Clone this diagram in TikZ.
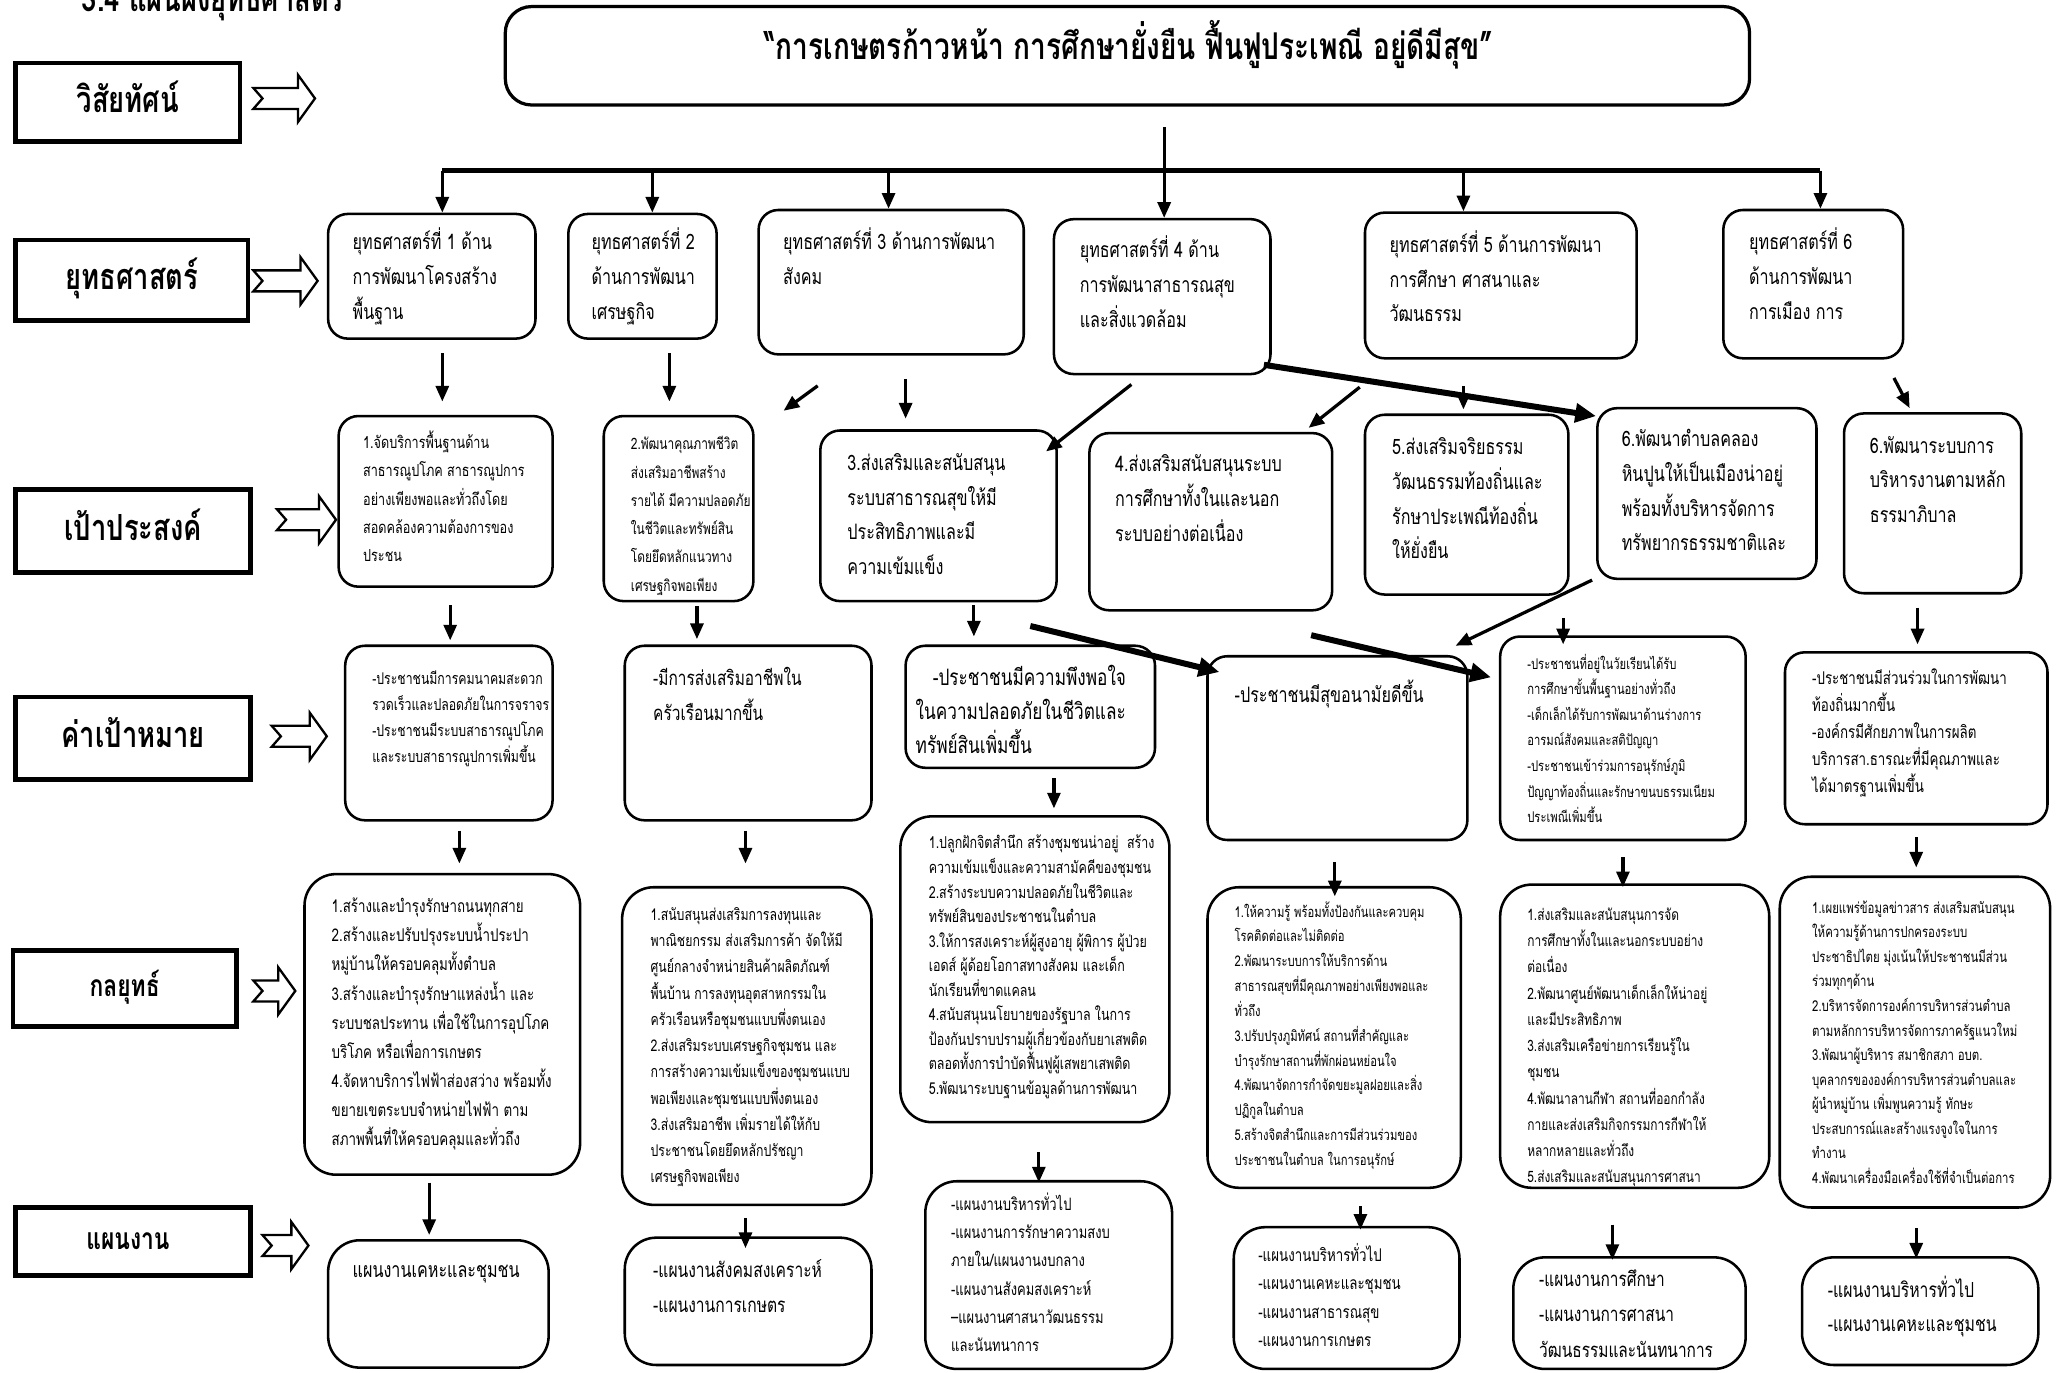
\documentclass[tikz,border=0pt]{standalone}
\usepackage{fontspec}
\setmainfont{Loma}[Script=Thai,FakeStretch=0.76]
\usetikzlibrary{arrows.meta,calc,fit}

% notched block arrow: tail x, tip x, middle y
\newcommand{\fatarrow}[3]{%
  \draw[fatarr] (#1,#3-8) -- (#2-13,#3-8) -- (#2-13,#3-18) -- (#2,#3)
    -- (#2-13,#3+18) -- (#2-13,#3+8) -- (#1,#3+8) -- (#1+7,#3) -- cycle;}

\tikzset{
  lab/.style={draw, line width=1pt, inner sep=0pt},
  rbox/.style={draw, line width=0.55pt, rounded corners=0.15cm, inner sep=0pt},
  kbox/.style={rbox, rounded corners=0.24cm},
  txt/.style 2 args={font=\fontsize{#1}{#2}\selectfont, anchor=north west, align=left, inner sep=0pt},
  txtA/.style={txt={4.6}{7.54}},
  hd/.style={font=\fontsize{7.8}{10}\selectfont\bfseries, text height=4.2pt, text depth=0pt},
  hds/.style={font=\fontsize{6.5}{8}\selectfont\bfseries, text height=3.5pt, text depth=0pt},
  arr/.style={-{Triangle[length=3.4pt,width=2.8pt]}, line width=0.7pt},
  bigarr/.style={-{Triangle[length=4.5pt,width=4pt]}, line width=1.3pt},
  fatarr/.style={draw, line width=0.5pt, fill=white, line join=miter}
}

\begin{document}
\begin{tikzpicture}[x=0.01cm, y=-0.01cm]
\useasboundingbox (0,0) rectangle (1568,1046);

% title, cut by the top edge
\node[hd, anchor=base west] (ttl) at (50,9) {3.4 แผนผังยุทธศาสตร์};

% left column
\node[lab, fit={(12,48) (183,108)}] (l1) {};
\node[lab, fit={(12,183) (189,244)}] (l2) {};
\node[lab, fit={(12,373) (191,436)}] (l3) {};
\node[lab, fit={(12,531) (191,594)}] (l4) {};
\node[lab, fit={(10,724) (180,782)}] (l5) {};
\node[lab, fit={(12,920) (191,972)}] (l6) {};
\node[hd] (l1t) at (l1.center) {วิสัยทัศน์};
\node[hd] (l2t) at (l2.center) {ยุทธศาสตร์};
\node[hd] (l3t) at (l3.center) {เป้าประสงค์};
\node[hd] (l4t) at (l4.center) {ค่าเป้าหมาย};
\node[hds] (l5t) at (l5.center) {กลยุทธ์};
\node[hds] (l6t) at ([xshift=-0.04cm]l6.center) {แผนงาน};
\fatarrow{193}{240}{75}
\fatarrow{193}{242}{214}
\fatarrow{211}{256}{396}
\fatarrow{207}{249}{561}
\fatarrow{193}{225}{755}
\fatarrow{200}{235}{949}

% vision
\node[rbox, line width=0.7pt, rounded corners=0.2cm, fit={(385,5) (1333,80)}] (vis) {};
\node[hd, font=\fontsize{8}{10}\selectfont\bfseries] (vist) at (860,38) {“การเกษตรก้าวหน้า การศึกษายั่งยืน ฟื้นฟูประเพณี อยู่ดีมีสุข”};

% strategies
\node[rbox, fit={(250,163) (408,258)}] (s1) {};
\node[rbox, fit={(433,163) (546,258)}] (s2) {};
\node[rbox, fit={(578,160) (780,270)}] (s3) {};
\node[rbox, fit={(803,167) (968,285)}] (s4) {};
\node[rbox, fit={(1040,162) (1247,273)}] (s5) {};
\node[rbox, fit={(1313,160) (1450,273)}] (s6) {};
\node[txtA] (s1t) at (268,171) {\strut ยุทธศาสตร์ที่ 1 ด้าน\\การพัฒนาโครงสร้าง\\พื้นฐาน};
\node[txtA] (s2t) at (450,171) {\strut ยุทธศาสตร์ที่ 2\\ด้านการพัฒนา\\เศรษฐกิจ};
\node[txtA] (s3t) at (596,171) {\strut ยุทธศาสตร์ที่ 3 ด้านการพัฒนา\\สังคม};
\node[txtA] (s4t) at (822,177) {\strut ยุทธศาสตร์ที่ 4 ด้าน\\การพัฒนาสาธารณสุข\\และสิ่งแวดล้อม};
\node[txtA] (s5t) at (1058,173) {\strut ยุทธศาสตร์ที่ 5 ด้านการพัฒนา\\การศึกษา ศาสนาและ\\วัฒนธรรม};
\node[txtA] (s6t) at (1332,171) {\strut ยุทธศาสตร์ที่ 6\\ด้านการพัฒนา\\การเมือง การ};

% vision to strategies
\coordinate (b1) at (337,130);
\coordinate (b2) at (497,130);
\coordinate (b3) at (677,130);
\coordinate (b5) at (1115,130);
\coordinate (b6) at (1387,130);
\coordinate (vtop) at (887,97);
\draw[line width=1.2pt] (b1) -- (b6);
\foreach \b/\s in {b1/s1,b2/s2,b3/s3,b5/s5,b6/s6}
  \draw[arr] (\b) -- (\b |- \s.north);
\draw[arr] (vtop) -- (vtop |- s4.north);

% goals
\node[rbox, fit={(258,317) (421,447)}] (g1) {};
\node[rbox, fit={(460,317) (574,458)}] (g2) {};
\node[rbox, fit={(625,328) (805,458)}] (g3) {};
\node[rbox, fit={(830,330) (1015,465)}] (g4) {};
\node[rbox, fit={(1040,316) (1195,453)}] (g5) {};
\node[rbox, fit={(1217,311) (1384,441)}] (g6) {};
\node[rbox, fit={(1405,315) (1540,452)}] (g7) {};
\node[txt={3.6}{6.12}] (g1t) at (276,326) {\strut 1.จัดบริการพื้นฐานด้าน\\สาธารณูปโภค สาธารณูปการ\\อย่างเพียงพอและทั่วถึงโดย\\สอดคล้องความต้องการของ\\ประชน};
\node[txt={3.4}{6.12}] (g2t) at (480,327) {\strut 2.พัฒนาคุณภาพชีวิต\\ส่งเสริมอาชีพสร้าง\\รายได้ มีความปลอดภัย\\ในชีวิตและทรัพย์สิน\\โดยยึดหลักแนวทาง\\เศรษฐกิจพอเพียง};
\node[txtA] (g3t) at (645,339) {\strut 3.ส่งเสริมและสนับสนุน\\ระบบสาธารณสุขให้มี\\ประสิทธิภาพและมี\\ความเข้มแข็ง};
\node[txtA] (g4t) at (849,340) {\strut 4.ส่งเสริมสนับสนุนระบบ\\การศึกษาทั้งในและนอก\\ระบบอย่างต่อเนื่อง};
\node[txtA] (g5t) at (1060,327) {\strut 5.ส่งเสริมจริยธรรม\\วัฒนธรรมท้องถิ่นและ\\รักษาประเพณีท้องถิ่น\\ให้ยั่งยืน};
\node[txtA] (g6t) at (1235,321) {\strut 6.พัฒนาตำบลคลอง\\หินปูนให้เป็นเมืองน่าอยู่\\พร้อมทั้งบริหารจัดการ\\ทรัพยากรธรรมชาติและ};
\node[txtA] (g7t) at (1424,326) {\strut 6.พัฒนาระบบการ\\บริหารงานตามหลัก\\ธรรมาภิบาล};

% strategies to goals
\draw[arr] ($(s1.south)+(8,10)$) -- ++(0,37);
\draw[arr] ($(s2.south)+(20.5,10)$) -- ++(0,37);
\draw[arr] ($(s3.south)+(-56,23)$) -- ++(-26,19);
\draw[arr] ($(s3.south)+(11,18)$) -- ++(0,30);
\draw[arr] ($(s4.south)+(-23.5,7)$) -- ++(-65,51);
\draw[bigarr] ([shift={(-6,-8)}]s4.south east) -- ([shift={(0,7)}]g6.north west);
\draw[arr] ($(s5.south)+(-28.5,20)$) -- ++(0,18);
\draw[arr] ($(s5.south)+(-107.5,21)$) -- ++(-39,31);
\draw[arr] ($(s6.south)+(61.5,14)$) -- ++(12,23);

% targets
\node[rbox, fit={(263,492) (421,625)}] (t1) {};
\node[rbox, fit={(476,492) (664,625)}] (t2) {};
\node[rbox, fit={(690,492) (880,585)}] (t3) {};
\node[rbox, fit={(920,500) (1118,640)}] (t4) {};
\node[rbox, fit={(1143,485) (1330,640)}] (t5) {};
\node[rbox, fit={(1360,497) (1560,628)}] (t6) {};
\node[txt={3.5}{5.69}] (t1t) at (283,506.5) {\strut -ประชาชนมีการคมนาคมสะดวก\\รวดเร็วและปลอดภัยในการจราจร\\-ประชาชนมีระบบสาธารณูปโภค\\และระบบสาธารณูปการเพิ่มขึ้น};
\node[txt={4.4}{7.68}] (t2t) at (497,502.6) {\strut -มีการส่งเสริมอาชีพใน\\ครัวเรือนมากขึ้น};
\node[txt={4.9}{7.4}] (t3t) at (697,503.3) {\strut\hspace*{3.7pt}-ประชาชนมีความพึงพอใจ\\ในความปลอดภัยในชีวิตและ\\ทรัพย์สินเพิ่มขึ้น};
\node[txt={4.6}{7.4}] (t4t) at (940,516.3) {\strut -ประชาชนมีสุขอนามัยดีขึ้น};
\node[txt={3.2}{5.55}] (t5t) at (1163,495.4) {\strut -ประชาชนที่อยู่ในวัยเรียนได้รับ\\การศึกษาขั้นพื้นฐานอย่างทั่วถึง\\-เด็กเล็กได้รับการพัฒนาด้านร่างการ\\อารมณ์สังคมและสติปัญญา\\-ประชาชนเข้าร่วมการอนุรักษ์ภูมิ\\ปัญญาท้องถิ่นและรักษาขนบธรรมเนียม\\ประเพณีเพิ่มขึ้น};
\node[txt={3.8}{5.83}] (t6t) at (1380,506.7) {\strut -ประชาชนมีส่วนร่วมในการพัฒนา\\ท้องถิ่นมากขึ้น\\-องค์กรมีศักยภาพในการผลิต\\บริการสา.ธารณะที่มีคุณภาพและ\\ได้มาตรฐานเพิ่มขึ้น};

% goals to targets
\draw[arr] ($(g1.south)+(3.5,13)$) -- ++(0,27);
\draw[arr] ($(g2.south)+(14,3)$) -- ++(0,25);
\draw[arr] ($(g3.south)+(27,2)$) -- ++(0,24);
\draw[bigarr] ($(g3.south)+(70,18)$) -- ([shift={(10,13)}]t4.north west);
\draw[bigarr] ([shift={(-17,18)}]g4.south east) -- ([shift={(-6,32)}]t5.north west);
\draw[arr] ([shift={(-3,0)}]g6.south west) -- ++(-104,50);
\draw[arr] ([shift={(-5,17)}]g5.south east) -- ++(0,20);
\draw[arr] ($(g7.south)+(-11.5,10)$) -- ++(0,28);

% tactics
\node[kbox, fit={(232,666) (442,895)}] (k1) {};
\node[kbox, fit={(474,676) (664,918)}] (k2) {};
\node[kbox, fit={(686,622) (891,855)}] (k3) {};
\node[kbox, fit={(920,676) (1113,905)}] (k4) {};
\node[kbox, fit={(1143,674) (1348,905)}] (k5) {};
\node[kbox, fit={(1356,668) (1562,920)}] (k6) {};
\node[txt={3.8}{6.32}] (k1t) at (252,679) {\strut 1.สร้างและบำรุงรักษาถนนทุกสาย\\2.สร้างและปรับปรุงระบบน้ำประปา\\หมู่บ้านให้ครอบคลุมทั้งตำบล\\3.สร้างและบำรุงรักษาแหล่งน้ำ และ\\ระบบชลประทาน เพื่อใช้ในการอุปโภค\\บริโภค หรือเพื่อการเกษตร\\4.จัดหาบริการไฟฟ้าส่องสว่าง พร้อมทั้ง\\ขยายเขตระบบจำหน่ายไฟฟ้า ตาม\\สภาพพื้นที่ให้ครอบคลุมและทั่วถึง};
\node[txt={3.5}{5.69}] (k2t) at (495,686.5) {\strut 1.สนับสนุนส่งเสริมการลงทุนและ\\พาณิชยกรรม ส่งเสริมการค้า จัดให้มี\\ศูนย์กลางจำหน่ายสินค้าผลิตภัณฑ์\\พื้นบ้าน การลงทุนอุตสาหกรรมใน\\ครัวเรือนหรือชุมชนแบบพึ่งตนเอง\\2.ส่งเสริมระบบเศรษฐกิจชุมชน และ\\การสร้างความเข้มแข็งของชุมชนแบบ\\พอเพียงและชุมชนแบบพึ่งตนเอง\\3.ส่งเสริมอาชีพ เพิ่มรายได้ให้กับ\\ประชาชนโดยยึดหลักปรัชญา\\เศรษฐกิจพอเพียง};
\node[txt={3.55}{5.32}] (k3t) at (707,633) {\strut 1.ปลูกฝักจิตสำนึก สร้างชุมชนน่าอยู่ \ สร้าง\\ความเข้มแข็งและความสามัคคีของชุมชน\\2.สร้างระบบความปลอดภัยในชีวิตและ\\ทรัพย์สินของประชาชนในตำบล\\3.ให้การสงเคราะห์ผู้สูงอายุ ผู้พิการ ผู้ป่วย\\เอดส์ ผู้ด้อยโอกาสทางสังคม และเด็ก\\นักเรียนที่ขาดแคลน\\4.สนับสนุนนโยบายของรัฐบาล ในการ\\ป้องกันปราบปรามผู้เกี่ยวข้องกับยาเสพติด\\ตลอดทั้งการบำบัดฟื้นฟูผู้เสพยาเสพติด\\5.พัฒนาระบบฐานข้อมูลด้านการพัฒนา};
\node[txt={3.2}{5.38}] (k4t) at (940,684.8) {\strut 1.ให้ความรู้ พร้อมทั้งป้องกันและควบคุม\\โรคติดต่อและไม่ติดต่อ\\2.พัฒนาระบบการให้บริการด้าน\\สาธารณสุขที่มีคุณภาพอย่างเพียงพอและ\\ทั่วถึง\\3.ปรับปรุงภูมิทัศน์ สถานที่สำคัญและ\\บำรุงรักษาสถานที่พักผ่อนหย่อนใจ\\4.พัฒนาจัดการกำจัดขยะมูลฝอยและสิ่ง\\ปฏิกูลในตำบล\\5.สร้างจิตสำนึกและการมีส่วนร่วมของ\\ประชาชนในตำบล ในการอนุรักษ์};
\node[txt={3.4}{5.69}] (k5t) at (1163,686.5) {\strut 1.ส่งเสริมและสนับสนุนการจัด\\การศึกษาทั้งในและนอกระบบอย่าง\\ต่อเนื่อง\\2.พัฒนาศูนย์พัฒนาเด็กเล็กให้น่าอยู่\\และมีประสิทธิภาพ\\3.ส่งเสริมเครือข่ายการเรียนรู้ใน\\ชุมชน\\4.พัฒนาลานกีฬา สถานที่ออกกำลัง\\กายและส่งเสริมกิจกรรมการกีฬาให้\\หลากหลายและทั่วถึง\\5.ส่งเสริมและสนับสนุนการศาสนา};
\node[txt={3.25}{5.32}] (k6t) at (1380,682) {\strut 1.เผยแพร่ข้อมูลข่าวสาร ส่งเสริมสนับสนุน\\ให้ความรู้ด้านการปกครองระบบ\\ประชาธิปไตย มุ่งเน้นให้ประชาชนมีส่วน\\ร่วมทุกๆด้าน\\2.บริหารจัดการองค์การบริหารส่วนตำบล\\ตามหลักการบริหารจัดการภาครัฐแนวใหม่\\3.พัฒนาผู้บริหาร สมาชิกสภา อบต.\\บุคลากรขององค์การบริหารส่วนตำบลและ\\ผู้นำหมู่บ้าน เพิ่มพูนความรู้ ทักษะ\\ประสบการณ์และสร้างแรงจูงใจในการ\\ทำงาน\\4.พัฒนาเครื่องมือเครื่องใช้ที่จำเป็นต่อการ};

% targets to tactics
\draw[arr] ($(t1.south)+(8,7)$) -- ++(0,25);
\draw[arr] ($(t2.south)+(-2,7)$) -- ++(0,25);
\draw[arr] ($(t3.south)+(18,7)$) -- ++(0,23);
\draw[arr] ($(t4.south)+(-2,16)$) -- ++(0,26);
\draw[arr] ($(t5.south)+(0,12)$) -- ++(0,23);
\draw[arr] ($(t6.south)+(0,9)$) -- ++(0,23);

% plans
\node[kbox, fit={(250,945) (418,1042)}] (p1) {};
\node[kbox, fit={(476,943) (664,1040)}] (p2) {};
\node[kbox, fit={(705,900) (893,1043)}] (p3) {};
\node[kbox, fit={(940,935) (1112,1043)}] (p4) {};
\node[kbox, fit={(1153,958) (1330,1043)}] (p5) {};
\node[kbox, fit={(1373,958) (1553,1040)}] (p6) {};
\node[txt={4.6}{7.4}] (p1t) at (268,954.3) {\strut แผนงานเคหะและชุมชน};
\node[txt={4.45}{7.68}] (p2t) at (497,953.6) {\strut -แผนงานสังคมสงเคราะห์\\-แผนงานการเกษตร};
\node[txt={3.7}{6.12}] (p3t) at (724,906.5) {\strut -แผนงานบริหารทั่วไป\\-แผนงานการรักษาความสงบ\\ภายใน/แผนงานงบกลาง\\-แผนงานสังคมสงเคราะห์\\–แผนงานศาสนาวัฒนธรรม\\และนันทนาการ};
\node[txt={3.8}{6.12}] (p4t) at (958,945.5) {\strut -แผนงานบริหารทั่วไป\\-แผนงานเคหะและชุมชน\\-แผนงานสาธารณสุข\\-แผนงานการเกษตร};
\node[txt={4.4}{7.68}] (p5t) at (1172,960.6) {\strut -แผนงานการศึกษา\\-แผนงานการศาสนา\\วัฒนธรรมและนันทนาการ};
\node[txt={4.5}{7.4}] (p6t) at (1392,969.3) {\strut -แผนงานบริหารทั่วไป\\-แผนงานเคหะและชุมชน};

% tactics to plans
\draw[arr] ($(k1.south)+(-10,5)$) -- ++(0,40);
\draw[arr] ($(k2.south)+(-1,9)$) -- ++(0,23);
\draw[arr] ($(k3.south)+(3,22)$) -- ++(0,23);
\draw[arr] ($(k4.south)+(20,13)$) -- ++(0,18);
\draw[arr] ($(k5.south)+(-17,27)$) -- ++(0,27);
\draw[arr] ($(k6.south)+(1,15)$) -- ++(0,23);
\end{tikzpicture}
\end{document}
